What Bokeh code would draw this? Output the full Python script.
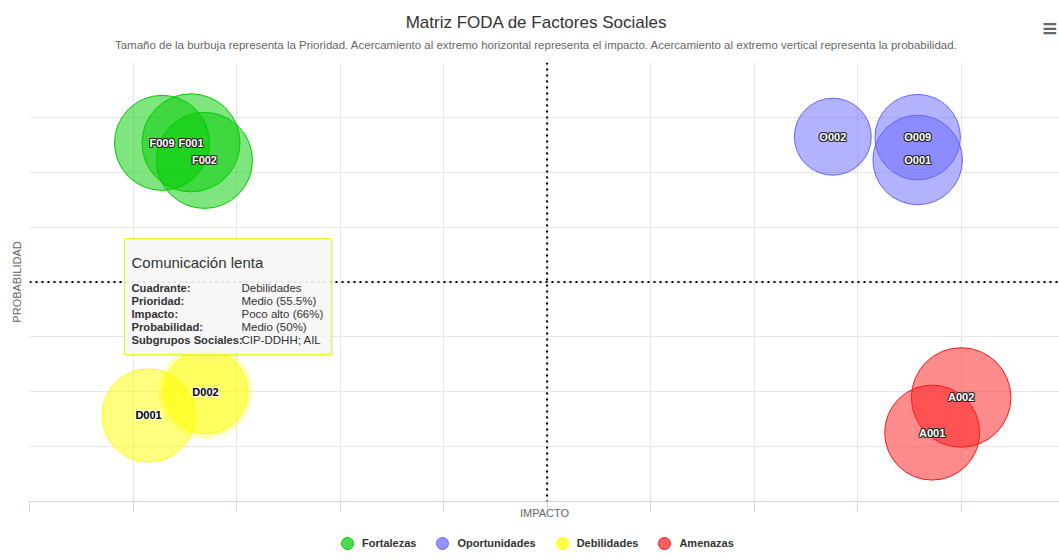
from bokeh.plotting import figure
from bokeh.layouts import column
from bokeh.models import (ColumnDataSource, Range1d, FixedTicker, Span, Label,
                          BoxAnnotation, Legend, LegendItem)
from bokeh.core.properties import value
from bokeh.embed import file_html
from bokeh.resources import INLINE

FONT = "Liberation Sans"

# ---------------- data ----------------
series_names = ["Fortalezas", "Oportunidades", "Debilidades", "Amenazas"]
series_colors = ["#00cc00", "#6666ff", "#ffff00", "#ff1a1a"]

fort_ids = ["F001", "F002", "F009"]
fort_x = [15.6, 16.9, 12.8]
fort_y = [81.7, 77.7, 81.7]
fort_prio = [64.7, 63.4, 62.7]

opor_ids = ["O001", "O002", "O009"]
opor_x = [85.8, 77.6, 85.8]
opor_y = [77.8, 83.1, 83.0]
opor_prio = [59.1, 50.8, 56.4]

deb_ids = ["D001", "D002"]
deb_x = [11.5, 17.0]
deb_y = [19.6, 25.0]
deb_prio = [61.4, 55.5]

ame_ids = ["A001", "A002"]
ame_x = [87.2, 90.0]
ame_y = [15.7, 23.7]
ame_prio = [62.7, 65.7]

x_ticks = [0, 10, 20, 30, 40, 50, 60, 70, 80, 90, 100]
y_ticks = [0, 12.5, 25, 37.5, 50, 62.5, 75, 87.5, 100]
quadrant_split = 50

title_text = "Matriz FODA de Factores Sociales"
subtitle_text = ("Tamaño de la burbuja representa la Prioridad. Acercamiento al extremo horizontal "
                 "representa el impacto. Acercamiento al extremo vertical representa la probabilidad.")

tooltip_title = "Comunicación lenta"
tooltip_keys = ["Cuadrante:", "Prioridad:", "Impacto:", "Probabilidad:", "Subgrupos Sociales:"]
tooltip_vals = ["Debilidades", "Medio (55.5%)", "Poco alto (66%)", "Medio (50%)", "CIP-DDHH; AIL"]

PX_PER_PRIO = 1.515  # bubble diameter (px) per priority point

series = [
    (fort_ids, fort_x, fort_y, fort_prio),
    (opor_ids, opor_x, opor_y, opor_prio),
    (deb_ids, deb_x, deb_y, deb_prio),
    (ame_ids, ame_x, ame_y, ame_prio),
]


def strip(height):
    f = figure(width=1059, height=height, output_backend="svg", toolbar_location=None,
               x_range=Range1d(0, 1), y_range=Range1d(0, 1),
               x_axis_location=None, y_axis_location=None, min_border=0)
    f.outline_line_color = None
    f.xgrid.visible = False
    f.ygrid.visible = False
    return f


# ---------------- header strip (title, subtitle, menu icon) ----------------
# (strip frames are aligned with the main plot frame, which starts 29px from the left)
hf = strip(61)
hf.add_layout(Label(x=507, y=39, x_units="screen", y_units="screen", text=title_text,
                    text_font=FONT, text_font_size="17px", text_color="#333333",
                    text_align="center", text_baseline="middle"))
hf.add_layout(Label(x=507, y=17, x_units="screen", y_units="screen", text=subtitle_text,
                    text_font=FONT, text_font_size="11.5px", text_color="#666666",
                    text_align="center", text_baseline="middle"))
hf.add_layout(Label(x=1012, y=34, x_units="screen", y_units="screen", text="≡",
                    text_font="DejaVu Sans", text_font_size="20px", text_font_style="bold",
                    text_color="#666666", text_align="left", text_baseline="middle"))

# ---------------- main figure ----------------
p = figure(width=1059, height=467, output_backend="svg", toolbar_location=None,
           x_range=Range1d(0, 99.5), y_range=Range1d(0, 100),
           min_border_left=29, min_border_right=0, min_border_top=1, min_border_bottom=27)
p.outline_line_color = None
p.background_fill_color = "white"
p.border_fill_color = "white"

p.xgrid.ticker = FixedTicker(ticks=x_ticks)
p.ygrid.ticker = FixedTicker(ticks=y_ticks)
p.xgrid.grid_line_color = "#e6e6e6"
p.ygrid.grid_line_color = "#e6e6e6"

xa = p.xaxis[0]
xa.ticker = FixedTicker(ticks=x_ticks)
xa.major_label_overrides = {t: "" for t in x_ticks}
xa.major_label_standoff = 0
xa.major_tick_out = 10
xa.major_tick_in = 0
xa.minor_tick_out = 0
xa.minor_tick_in = 0
xa.major_tick_line_color = "#ccd6eb"
xa.axis_line_color = "#ccd6eb"
xa.axis_label = "IMPACTO"
xa.axis_label_text_font = FONT
xa.axis_label_text_font_size = "11px"
xa.axis_label_text_font_style = "normal"
xa.axis_label_text_color = "#666666"
xa.axis_label_standoff = -5

ya = p.yaxis[0]
ya.ticker = FixedTicker(ticks=y_ticks)
ya.major_label_overrides = {t: "" for t in y_ticks}
ya.major_label_standoff = 0
ya.major_tick_out = 0
ya.major_tick_in = 0
ya.minor_tick_out = 0
ya.minor_tick_in = 0
ya.axis_line_color = None
ya.axis_label = "PROBABILIDAD"
ya.axis_label_text_font = FONT
ya.axis_label_text_font_size = "11px"
ya.axis_label_text_font_style = "normal"
ya.axis_label_text_color = "#666666"
ya.axis_label_standoff = 7

# quadrant dividers
p.add_layout(Span(location=quadrant_split, dimension="height", line_color="black",
                  line_width=2, line_dash="2 4"))
p.add_layout(Span(location=quadrant_split, dimension="width", line_color="black",
                  line_width=2, line_dash="2 4"))

# ---------------- bubbles ----------------
hover_series, hover_index = 2, 1
for si, (ids, xs, ys, prio) in enumerate(series):
    col = series_colors[si]
    src = ColumnDataSource(dict(x=xs, y=ys, id=ids, size=[v * PX_PER_PRIO for v in prio]))
    if si == hover_series:
        halo = ColumnDataSource(dict(x=[xs[hover_index]], y=[ys[hover_index]],
                                     size=[prio[hover_index] * PX_PER_PRIO + 10]))
        p.scatter("x", "y", size="size", source=halo, fill_color=col, fill_alpha=0.25,
                  line_color=None)
    p.scatter("x", "y", size="size", source=src, fill_color=col, fill_alpha=0.5,
              line_color=col, line_width=1)

# data labels (with outline)
offsets = [(-1, -1), (-1, 0), (-1, 1), (0, -1), (0, 1), (1, -1), (1, 0), (1, 1)]
for si, (ids, xs, ys, prio) in enumerate(series):
    light_bg = series_colors[si] == "#ffff00"
    txt_col = "#000000" if light_bg else "#ffffff"
    out_col = "#ffffff" if light_bg else "#222222"
    src = ColumnDataSource(dict(x=xs, y=ys, id=ids))
    for dx, dy in offsets:
        p.text("x", "y", text="id", source=src, x_offset=dx, y_offset=dy,
               text_font=value(FONT), text_font_size="11px", text_font_style="bold",
               text_color=out_col, text_align="center", text_baseline="middle",
               text_alpha=0.8 if not light_bg else 0.6)
    p.text("x", "y", text="id", source=src, text_font=value(FONT), text_font_size="11px",
           text_font_style="bold", text_color=txt_col, text_align="center",
           text_baseline="middle")

# ---------------- tooltip (hover state of D002), screen coords from frame bottom-left ----------------
p.add_layout(BoxAnnotation(left=97, right=304, bottom=145, top=261,
                           left_units="screen", right_units="screen",
                           bottom_units="screen", top_units="screen",
                           fill_color="#000000", fill_alpha=0.06, line_color=None))
p.add_layout(BoxAnnotation(left=95, right=302, bottom=147, top=263,
                           left_units="screen", right_units="screen",
                           bottom_units="screen", top_units="screen",
                           fill_color="#f7f7f7", fill_alpha=0.9,
                           line_color="#eeee33", line_width=1, line_alpha=1))
p.add_layout(Label(x=102, y=239, x_units="screen", y_units="screen", text=tooltip_title,
                   text_font=FONT, text_font_size="15px", text_color="#333333",
                   text_align="left", text_baseline="middle"))
for i, (k, v) in enumerate(zip(tooltip_keys, tooltip_vals)):
    yy = 214 - 13 * i
    p.add_layout(Label(x=102, y=yy, x_units="screen", y_units="screen", text=k,
                       text_font=FONT, text_font_size="11.2px", text_font_style="bold",
                       text_color="#333333", text_align="left", text_baseline="middle"))
    p.add_layout(Label(x=212, y=yy, x_units="screen", y_units="screen", text=v,
                       text_font=FONT, text_font_size="11.5px", text_color="#333333",
                       text_align="left", text_baseline="middle"))

# ---------------- legend strip ----------------
lf = strip(32)
items = []
for si, name in enumerate(series_names):
    col = series_colors[si]
    r = lf.scatter(x=[5], y=[5], size=12, fill_color=col, fill_alpha=0.7,
                   line_color=col, line_width=1)
    items.append(LegendItem(label=name, renderers=[r]))
legend = Legend(items=items, orientation="horizontal", location=(303, 2),
                glyph_width=30, glyph_height=30, label_standoff=0, spacing=11,
                padding=0, margin=0, border_line_color=None, background_fill_alpha=0,
                label_text_font=FONT, label_text_font_size="11px",
                label_text_font_style="bold", label_text_color="#333333")
lf.add_layout(legend)

layout = column(hf, p, lf, spacing=0)
open("out.html", "w").write(file_html(layout, INLINE))
